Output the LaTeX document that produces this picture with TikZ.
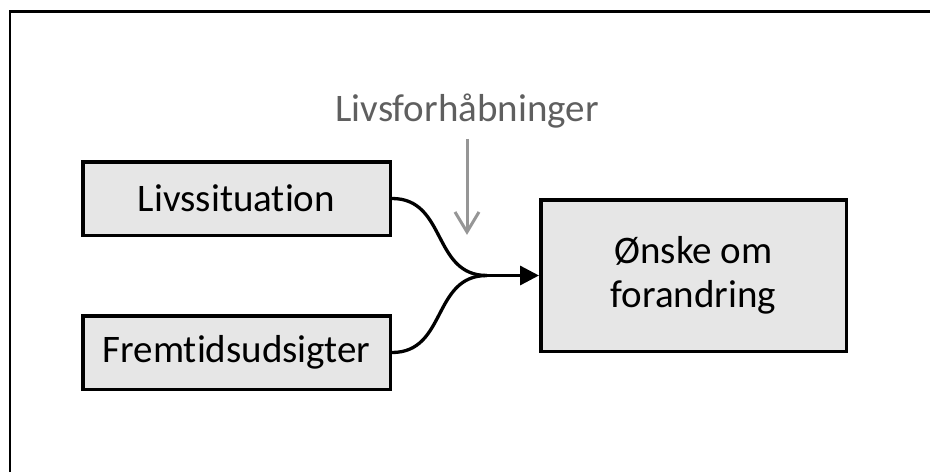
\documentclass[tikz,border=0pt]{standalone}
\usepackage{fontspec}
\setmainfont{Carlito}[Ligatures=NoCommon]
\usetikzlibrary{arrows.meta}
\definecolor{boksgraa}{RGB}{230,230,230}
\definecolor{tekstgraa}{RGB}{95,95,95}
\definecolor{pilgraa}{RGB}{150,150,150}

\begin{document}
\begin{tikzpicture}[x=1pt, y=-1pt,
    boks/.style={draw=black, fill=boksgraa, line width=3.5pt, inner sep=0pt,
        minimum width=307.5pt, minimum height=73.5pt, align=center,
        font=\fontsize{39}{44}\selectfont},
    forbindelse/.style={line width=3.3pt},
    graapil/.style={draw=pilgraa, line width=3pt, -{Straight Barb[length=20pt,width=24pt]}}]
            \useasboundingbox (0,0) rectangle (930,472);
            % Ramme (kun top og venstre side er synlige)
            \draw[line width=2.5pt] (10,472) -- (10,11.5) -- (930,11.5);
            % De to kasser til venstre
            \node[boks] (liv) at (236.5,198.5) {Livssituation};
            \node[boks] (frem) at (236.5,352.5) {Fremtidsudsigter};
            % Resultatet
            \node[boks, minimum width=305.5pt, minimum height=151.5pt] (onske) at (693.5,275.5) {Ønske om\\forandring};
            % Etiket over pilen
            \node[anchor=base, inner sep=2pt, text=tekstgraa, font=\fontsize{39}{44}\selectfont] (forh) at (467,121) {Livsforhåbninger};
            % Punktet hvor kurverne samles
            \coordinate (samling) at (487,275.5);
            \draw[forbindelse] (liv.east) .. controls +(55,0) and +(-55,0) .. (samling);
            \draw[forbindelse] (frem.east) .. controls +(55,0) and +(-55,0) .. (samling);
            \draw[forbindelse, -{Triangle[length=19pt,width=19pt]}] (samling) -- (onske.west);
            % Graa pil fra etiketten
            \draw[graapil] ([yshift=-9pt]forh.south) -- +(0,96);
\end{tikzpicture}
\end{document}
